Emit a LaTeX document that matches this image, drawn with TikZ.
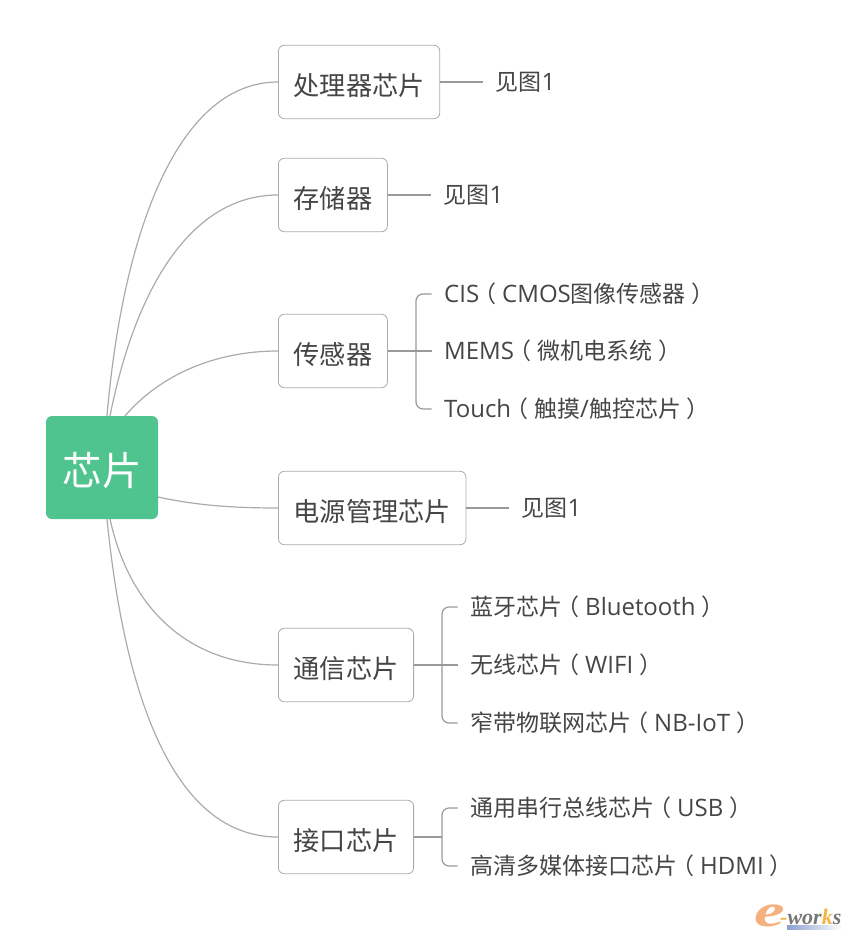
\documentclass[tikz,border=0pt]{standalone}
\usepackage{fontspec}
\usepackage{xcolor}
\setmainfont{Noto Sans CJK SC}
\newfontfamily\logofont{Liberation Serif}
\newfontfamily\latinfont{Open Sans}
\usetikzlibrary{calc}
\definecolor{rootbg}{HTML}{50C48F}
\definecolor{ink}{HTML}{454545}
\definecolor{edge}{HTML}{ABABAB}
\definecolor{branch}{HTML}{999999}
\definecolor{logoorange}{HTML}{F5B342}
\definecolor{logosalmon}{HTML}{F4B07E}
\definecolor{logogray}{HTML}{777777}
\definecolor{logoblue}{HTML}{8C9FD0}
% latin runs, and the wide brackets drawn centred in their cell
\newcommand{\lat}[1]{{\latinfont\fontsize{24}{28}\selectfont #1}}
\newcommand{\lpar}{\hspace{-6pt}（\hspace{6pt}}
\newcommand{\rpar}{\hspace{6pt}）\hspace{-6pt}}
\tikzset{
  link/.style={draw=edge, line width=1.2pt},
  fork/.style={draw=branch, line width=1.2pt},
  rootbox/.style={fill=rootbg, rounded corners=6pt, text=white, font=\fontsize{39.5}{42}\selectfont,
    minimum width=112pt, minimum height=103pt, inner sep=0pt, text height=35pt, text depth=0pt},
  topic/.style={draw=edge, line width=0.8pt, fill=white, rounded corners=6pt, text=ink, anchor=west,
    font=\fontsize{26.2}{30}\selectfont, minimum height=73.5pt, inner xsep=15.2pt, inner ysep=0pt,
    text height=26pt, text depth=0pt},
  leaf/.style={text=ink, font=\fontsize{23}{28}\selectfont, anchor=west, inner xsep=12.5pt, inner ysep=0pt,
    text height=17pt, text depth=0pt}
}

\begin{document}
\begin{tikzpicture}[x=1pt,y=-1pt]
  \useasboundingbox (0,0) rectangle (851,940);
  % centre and first level
  \node[rootbox] (root) at (102,467.5) {芯片};
  \node[topic] (proc) at (278,82) {处理器芯片};
  \node[topic] (mem) at (278,195) {存储器};
  \node[topic] (sens) at (278,351) {传感器};
  \node[topic] (power) at (278,508) {电源管理芯片};
  \node[topic] (comm) at (278,665) {通信芯片};
  \node[topic] (iface) at (278,837) {接口芯片};
  % leaves
  \node[leaf] (procA) at (483,82) {见图\lat{1}};
  \node[leaf] (memA) at (431,195) {见图\lat{1}};
  \node[leaf] (powerA) at (509,508) {见图\lat{1}};
  \node[leaf] (sensA) at (431.5,294) {\lat{CIS}\lpar{}\lat{CMOS}图像传感器\rpar};
  \node[leaf] (sensB) at (431.5,351) {\lat{MEMS}\lpar{}微机电系统\rpar};
  \node[leaf] (sensC) at (431.5,409) {\lat{Touch}\lpar{}触摸\lat{/}触控芯片\rpar};
  \node[leaf] (commA) at (457.5,607) {蓝牙芯片\lpar{}\lat{Bluetooth}\rpar};
  \node[leaf] (commB) at (457.5,665) {无线芯片\lpar{}\lat{WIFI}\rpar};
  \node[leaf] (commC) at (457.5,723) {窄带物联网芯片\lpar{}\lat{NB-IoT}\rpar};
  \node[leaf] (ifaceA) at (457.5,808) {通用串行总线芯片\lpar{}\lat{USB}\rpar};
  \node[leaf] (ifaceB) at (457.5,866) {高清多媒体接口芯片\lpar{}\lat{HDMI}\rpar};
  % root to topics
  \coordinate (r1) at (107,416);
  \coordinate (r2) at (110,416);
  \coordinate (r3) at (125,416);
  \coordinate (r4) at (158,497);
  \coordinate (r5) at (110,519);
  \coordinate (r6) at (107,519);
  \draw[link] (r1) .. controls (122,240) and (175,82) .. (proc.west);
  \draw[link] (r2) .. controls (135,290) and (190,195) .. (mem.west);
  \draw[link] (r3) .. controls (160,375) and (215,351) .. (sens.west);
  \draw[link] (r4) .. controls (195,505) and (230,508) .. (power.west);
  \draw[link] (r5) .. controls (130,610) and (190,665) .. (comm.west);
  \draw[link] (r6) .. controls (125,700) and (175,837) .. (iface.west);
  % single leaves
  \draw[fork] (proc.east) -- (procA.west);
  \draw[fork] (mem.east) -- (memA.west);
  \draw[fork] (power.east) -- (powerA.west);
  % brackets
  \draw[fork] (sens.east) -- (sensB.west);
  \draw[fork,rounded corners=7pt] (sensA.west) -- (416,294) -- (416,409) -- (sensC.west);
  \draw[fork] (comm.east) -- (commB.west);
  \draw[fork,rounded corners=7pt] (commA.west) -- (442,607) -- (442,723) -- (commC.west);
  \coordinate (ifaceM) at (442,837);
  \draw[fork] (iface.east) -- (ifaceM);
  \draw[fork,rounded corners=7pt] (ifaceA.west) -- (442,808) -- (442,866) -- (ifaceB.west);
  % logo
  \node[inner sep=0pt,text=logosalmon,xscale=1.5,font=\logofont\bfseries\itshape\fontsize{46}{46}\selectfont] (logoE) at (770,916) {e};
  \node[inner sep=0pt,anchor=west,text=logogray,font=\logofont\bfseries\itshape\fontsize{22}{22}\selectfont] (logoT) at (780,917)
    {\textcolor{logoorange}{-}wor\textcolor{logoorange}{k}s};
  \shade[left color=logoblue,right color=white] (787,925) rectangle (842,929);
\end{tikzpicture}
\end{document}
